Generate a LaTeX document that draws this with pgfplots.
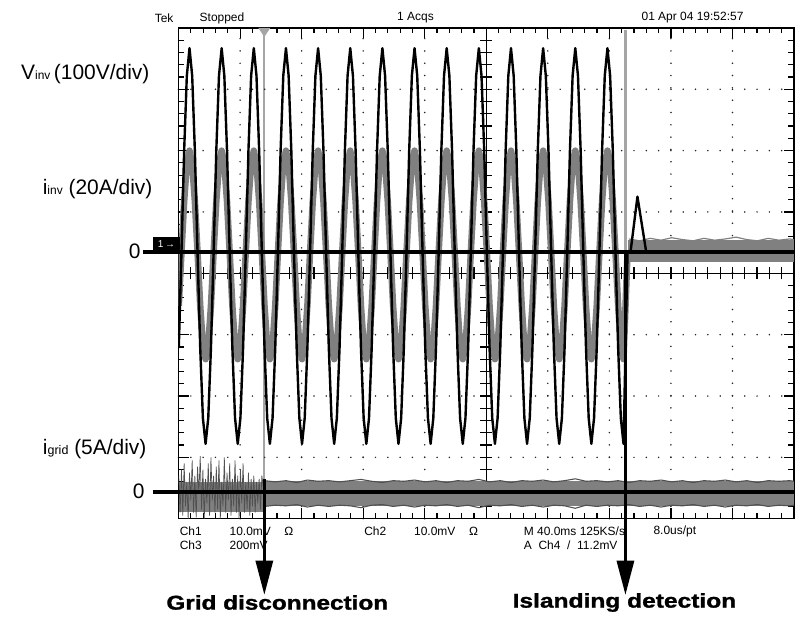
\documentclass[border=0pt]{standalone}
\usepackage{fontspec}
\setmainfont{Liberation Sans}
\newfontfamily\heavy[FakeBold=1.2]{Liberation Sans Bold}
\usepackage{graphicx}
\usepackage{pgfplots}
\pgfplotsset{compat=1.18}
\definecolor{wgrey}{RGB}{128,128,128}
\definecolor{cgrey}{RGB}{165,165,165}
\definecolor{dgrey}{RGB}{80,80,80}
\begin{document}
\begin{tikzpicture}
% pixel frame: 1pt = 1px of the reference, origin at grid lower-left
\begin{scope}[x=1pt,y=-1pt,xshift=-179pt,yshift=520pt]
  \useasboundingbox (0,0) rectangle (797,621);
  \draw[cgrey,line width=2.2pt] (265,28) -- (265,480);
  \draw[cgrey,line width=2.2pt] (627,30) -- (627,253);
\end{scope}
% graticule in division units
\begin{scope}[x=61.7pt,y=61.5pt]
  \foreach \i in {1,2,3,4,6,7,8,9}
    \draw[black!85,line width=1.7pt,line cap=round,dash pattern=on 0pt off 12.34pt] (\i,0) -- (\i,8);
  \foreach \j in {1,2,3,5,6,7}
    \draw[black!85,line width=1.7pt,line cap=round,dash pattern=on 0pt off 12.34pt] (0,\j) -- (10,\j);
  \draw[line width=1.1pt] (5,0) -- (5,8);
  \draw[line width=1.1pt] (0,4) -- (10,4);
  \foreach \k in {1,...,49}{
    \pgfmathsetmacro{\xx}{\k*0.2}
    \pgfmathsetmacro{\len}{ifthenelse(mod(\k,5)==0,0.17,0.09)}
    \draw[line width=1.2pt] (\xx,0) -- ++(0,\len);
    \draw[line width=1.2pt] (\xx,8) -- ++(0,-\len);
    \draw[line width=1.2pt] (\xx,3.9) -- (\xx,4.1);
  }
  \foreach \k in {1,...,39}{
    \pgfmathsetmacro{\yy}{\k*0.2}
    \pgfmathsetmacro{\len}{ifthenelse(mod(\k,5)==0,0.17,0.09)}
    \draw[line width=1.2pt] (0,\yy) -- ++(\len,0);
    \draw[line width=1.2pt] (10,\yy) -- ++(-\len,0);
    \draw[line width=1.2pt] (4.9,\yy) -- (5.1,\yy);
  }
  \draw[line width=1.4pt] (0,0) rectangle (10,8);
\end{scope}
\begin{axis}[at={(0,0)},anchor=south west,width=617pt,height=492pt,scale only axis,
  xmin=-1.089,xmax=228.64,ymin=-4,ymax=4,hide axis,clip=true]
% i_grid before disconnection
\addplot[wgrey,line width=30pt] coordinates {(-1.089,-3.64)(30.9,-3.64)};
\addplot[dgrey,line width=0.7pt] coordinates {
(-1,-3.3)(-0.5,-3.9)(0,-3.2)(0.5,-3.95)(1,-3.1)(1.5,-3.8)(2,-3.4)(2.5,-4.0)(3,-3.25)(3.5,-3.7)(4,-3.05)(4.5,-3.9)(5,-3.3)(5.5,-3.98)(6,-3.15)(6.5,-3.6)(7,-2.98)(7.5,-3.85)(8,-3.2)(8.5,-4.0)(9,-3.35)(9.5,-3.75)(10,-3.1)(10.5,-3.95)(11,-3.0)(11.5,-3.7)(12,-3.3)(12.5,-3.9)(13,-3.15)(13.5,-3.85)(14,-3.05)(14.5,-4.0)(15,-3.4)(15.5,-3.8)(16,-3.0)(16.5,-3.9)(17,-3.25)(17.5,-3.7)(18,-3.1)(18.5,-3.95)(19,-3.35)(19.5,-3.8)(20,-3.05)(20.5,-3.9)(21,-3.3)(21.5,-4.0)(22,-3.2)(22.5,-3.75)(23,-3.1)(23.5,-3.9)(24,-3.4)(24.5,-3.85)(25,-3.25)(25.5,-3.95)(26,-3.35)(26.5,-3.8)(27,-3.3)(27.5,-3.9)(28,-3.4)(28.5,-3.75)(29,-3.35)(29.5,-3.85)(30,-3.3)(30.9,-3.6)};
% i_grid after disconnection
\addplot[wgrey,line width=25pt] coordinates {(30.9,-3.59)(228.64,-3.59)};
\addplot[dgrey,line width=1.1pt] coordinates {
(31,-3.38)(35,-3.40)(39,-3.38)(43,-3.41)(47,-3.37)(51,-3.39)(55,-3.38)(59,-3.40)(63,-3.38)(67,-3.36)(71,-3.39)(75,-3.41)(79,-3.38)(83,-3.39)(87,-3.37)(91,-3.40)(95,-3.38)(99,-3.41)(103,-3.38)(107,-3.39)(111,-3.36)(115,-3.40)(119,-3.38)(123,-3.41)(127,-3.38)(131,-3.39)(135,-3.37)(139,-3.40)(143,-3.38)(147,-3.35)(151,-3.39)(155,-3.38)(159,-3.40)(163,-3.38)(167,-3.41)(171,-3.38)(175,-3.39)(179,-3.37)(183,-3.40)(187,-3.38)(191,-3.41)(195,-3.38)(199,-3.39)(203,-3.37)(207,-3.40)(211,-3.38)(215,-3.41)(219,-3.38)(223,-3.39)(227,-3.38)(228.64,-3.39)};
\addplot[dgrey,line width=1.1pt] coordinates {
(31,-3.80)(35,-3.78)(39,-3.79)(43,-3.77)(47,-3.81)(51,-3.78)(55,-3.80)(59,-3.78)(63,-3.79)(67,-3.82)(71,-3.78)(75,-3.77)(79,-3.80)(83,-3.78)(87,-3.81)(91,-3.78)(95,-3.79)(99,-3.77)(103,-3.80)(107,-3.78)(111,-3.82)(115,-3.78)(119,-3.79)(123,-3.77)(127,-3.80)(131,-3.78)(135,-3.81)(139,-3.78)(143,-3.79)(147,-3.83)(151,-3.78)(155,-3.80)(159,-3.78)(163,-3.79)(167,-3.77)(171,-3.80)(175,-3.78)(179,-3.81)(183,-3.78)(187,-3.79)(191,-3.77)(195,-3.80)(199,-3.78)(203,-3.81)(207,-3.78)(211,-3.79)(215,-3.77)(219,-3.80)(223,-3.78)(227,-3.79)(228.64,-3.78)};
% i_inv
\addplot[wgrey,line width=6.5pt,line join=round] coordinates {
(-1,-0.53)
(0,0.34)(1,1.17)(2,1.78)(3,2.0)(4,1.78)(5,1.17)(6,0.34)(7,-0.53)(8,-1.17)(9,-1.4)(10,-1.17)(11,-0.53)
(12,0.34)(13,1.17)(14,1.78)(15,2.0)(16,1.78)(17,1.17)(18,0.34)(19,-0.53)(20,-1.17)(21,-1.4)(22,-1.17)(23,-0.53)
(24,0.34)(25,1.17)(26,1.78)(27,2.0)(28,1.78)(29,1.17)(30,0.34)(31,-0.53)(32,-1.17)(33,-1.4)(34,-1.17)(35,-0.53)
(36,0.34)(37,1.17)(38,1.78)(39,2.0)(40,1.78)(41,1.17)(42,0.34)(43,-0.53)(44,-1.17)(45,-1.4)(46,-1.17)(47,-0.53)
(48,0.34)(49,1.17)(50,1.78)(51,2.0)(52,1.78)(53,1.17)(54,0.34)(55,-0.53)(56,-1.17)(57,-1.4)(58,-1.17)(59,-0.53)
(60,0.34)(61,1.17)(62,1.78)(63,2.0)(64,1.78)(65,1.17)(66,0.34)(67,-0.53)(68,-1.17)(69,-1.4)(70,-1.17)(71,-0.53)
(72,0.34)(73,1.17)(74,1.78)(75,2.0)(76,1.78)(77,1.17)(78,0.34)(79,-0.53)(80,-1.17)(81,-1.4)(82,-1.17)(83,-0.53)
(84,0.34)(85,1.17)(86,1.78)(87,2.0)(88,1.78)(89,1.17)(90,0.34)(91,-0.53)(92,-1.17)(93,-1.4)(94,-1.17)(95,-0.53)
(96,0.34)(97,1.17)(98,1.78)(99,2.0)(100,1.78)(101,1.17)(102,0.34)(103,-0.53)(104,-1.17)(105,-1.4)(106,-1.17)(107,-0.53)
(108,0.34)(109,1.17)(110,1.78)(111,2.0)(112,1.78)(113,1.17)(114,0.34)(115,-0.53)(116,-1.17)(117,-1.4)(118,-1.17)(119,-0.53)
(120,0.34)(121,1.17)(122,1.78)(123,2.0)(124,1.78)(125,1.17)(126,0.34)(127,-0.53)(128,-1.17)(129,-1.4)(130,-1.17)(131,-0.53)
(132,0.34)(133,1.17)(134,1.78)(135,2.0)(136,1.78)(137,1.17)(138,0.34)(139,-0.53)(140,-1.17)(141,-1.4)(142,-1.17)(143,-0.53)
(144,0.34)(145,1.17)(146,1.78)(147,2.0)(148,1.78)(149,1.17)(150,0.34)(151,-0.53)(152,-1.17)(153,-1.4)(154,-1.17)(155,-0.53)
(156,0.34)(157,1.17)(158,1.78)(159,2.0)(160,1.78)(161,1.17)(162,0.34)(163,-0.53)(164,-1.17)(165,-1.4)(166.5,0.34)};
% i_inv after islanding (noise band)
\addplot[wgrey,line width=22pt] coordinates {(166.5,0.37)(228.64,0.37)};
\addplot[wgrey,line width=1.2pt] coordinates {
(167,0.56)(171,0.53)(175,0.57)(179,0.54)(183,0.58)(187,0.55)(191,0.53)(195,0.57)(199,0.54)(203,0.56)(207,0.59)(211,0.55)(215,0.53)(219,0.57)(223,0.54)(227,0.56)(228.64,0.55)};
% v_inv
\addplot[black,line width=2.4pt,line join=round] coordinates {
(-1,-1.22)
(0,0.34)(1,2.0)(2,3.22)(3,3.67)(4,3.22)(5,2.0)(6,0.34)(7,-1.22)(8,-2.36)(9,-2.78)(10,-2.36)(11,-1.22)
(12,0.34)(13,2.0)(14,3.22)(15,3.67)(16,3.22)(17,2.0)(18,0.34)(19,-1.22)(20,-2.36)(21,-2.78)(22,-2.36)(23,-1.22)
(24,0.34)(25,2.0)(26,3.22)(27,3.67)(28,3.22)(29,2.0)(30,0.34)(31,-1.22)(32,-2.36)(33,-2.78)(34,-2.36)(35,-1.22)
(36,0.34)(37,2.0)(38,3.22)(39,3.67)(40,3.22)(41,2.0)(42,0.34)(43,-1.22)(44,-2.36)(45,-2.78)(46,-2.36)(47,-1.22)
(48,0.34)(49,2.0)(50,3.22)(51,3.67)(52,3.22)(53,2.0)(54,0.34)(55,-1.22)(56,-2.36)(57,-2.78)(58,-2.36)(59,-1.22)
(60,0.34)(61,2.0)(62,3.22)(63,3.67)(64,3.22)(65,2.0)(66,0.34)(67,-1.22)(68,-2.36)(69,-2.78)(70,-2.36)(71,-1.22)
(72,0.34)(73,2.0)(74,3.22)(75,3.67)(76,3.22)(77,2.0)(78,0.34)(79,-1.22)(80,-2.36)(81,-2.78)(82,-2.36)(83,-1.22)
(84,0.34)(85,2.0)(86,3.22)(87,3.67)(88,3.22)(89,2.0)(90,0.34)(91,-1.22)(92,-2.36)(93,-2.78)(94,-2.36)(95,-1.22)
(96,0.34)(97,2.0)(98,3.22)(99,3.67)(100,3.22)(101,2.0)(102,0.34)(103,-1.22)(104,-2.36)(105,-2.78)(106,-2.36)(107,-1.22)
(108,0.34)(109,2.0)(110,3.22)(111,3.67)(112,3.22)(113,2.0)(114,0.34)(115,-1.22)(116,-2.36)(117,-2.78)(118,-2.36)(119,-1.22)
(120,0.34)(121,2.0)(122,3.22)(123,3.67)(124,3.22)(125,2.0)(126,0.34)(127,-1.22)(128,-2.36)(129,-2.78)(130,-2.36)(131,-1.22)
(132,0.34)(133,2.0)(134,3.22)(135,3.67)(136,3.22)(137,2.0)(138,0.34)(139,-1.22)(140,-2.36)(141,-2.78)(142,-2.36)(143,-1.22)
(144,0.34)(145,2.0)(146,3.22)(147,3.67)(148,3.22)(149,2.0)(150,0.34)(151,-1.22)(152,-2.36)(153,-2.78)(154,-2.36)(155,-1.22)
(156,0.34)(157,2.0)(158,3.22)(159,3.67)(160,3.22)(161,2.0)(162,0.34)(163,-1.22)(164,-2.36)(165,-2.78)
(166.5,0.34)(167.6,0.34)(170.2,1.25)(173.5,0.34)(228.64,0.34)};
\end{axis}
% annotations in pixel frame
\begin{scope}[x=1pt,y=-1pt,xshift=-179pt,yshift=520pt]
  \draw[line width=4pt] (143,253) -- (797,253);
  \draw[line width=4pt] (153,493) -- (797,493);
  \draw[line width=3pt] (265,480) -- (265,565);
  \fill (256,562) -- (274,562) -- (265,596) -- cycle;
  \draw[line width=3pt] (627,253) -- (627,565);
  \fill (618,562) -- (636,562) -- (627,596) -- cycle;
  \fill[cgrey] (259,28) -- (271,28) -- (265,37) -- cycle;
  \fill (153,238) rectangle (180,252);
  \node[white,inner sep=0pt,font=\fontsize{10}{10}\selectfont] at (167,245) {1\,→};
  \begin{scope}[every node/.style={inner sep=0pt,anchor=west,font=\fontsize{12}{12}\selectfont}]
    \node at (155,18) {Tek};
    \node at (200,18) {Stopped};
    \node at (398,18) {1 Acqs};
    \node at (643,18) {01 Apr 04 19:52:57};
    \node at (180,533) {Ch1};
    \node at (230,533) {10.0mV};
    \node at (285,533) {Ω};
    \node at (180,547) {Ch3};
    \node at (230,547) {200mV};
    \node at (365,533) {Ch2};
    \node at (415,533) {10.0mV};
    \node at (470,533) {Ω};
    \node at (525,533) {M 40.0ms 125KS/s};
    \node at (655,533) {8.0us/pt};
    \node at (525,547) {A\ \ Ch4\ \ /\ \ 11.2mV};
  \end{scope}
  \begin{scope}[every node/.style={inner sep=0pt,font=\fontsize{21}{21}\selectfont}]
    \node[anchor=base east] at (150,80) {V{\fontsize{12}{12}\selectfont inv}\,(100V/div)};
    \node[anchor=base east] at (153,195) {i{\fontsize{12}{12}\selectfont inv} (20A/div)};
    \node[anchor=base east] at (147,456) {i{\fontsize{12.5}{12.5}\selectfont grid} (5A/div)};
    \node at (135,252) {0};
    \node at (139,493) {0};
  \end{scope}
  \node[inner sep=0pt,font=\heavy\fontsize{20}{20}\selectfont] at (278,604) {\scalebox{1.22}[1]{Grid disconnection}};
  \node[inner sep=0pt,font=\heavy\fontsize{20}{20}\selectfont] at (626,604) {\scalebox{1.23}[1]{Islanding detection}};
\end{scope}
\end{tikzpicture}
\end{document}
